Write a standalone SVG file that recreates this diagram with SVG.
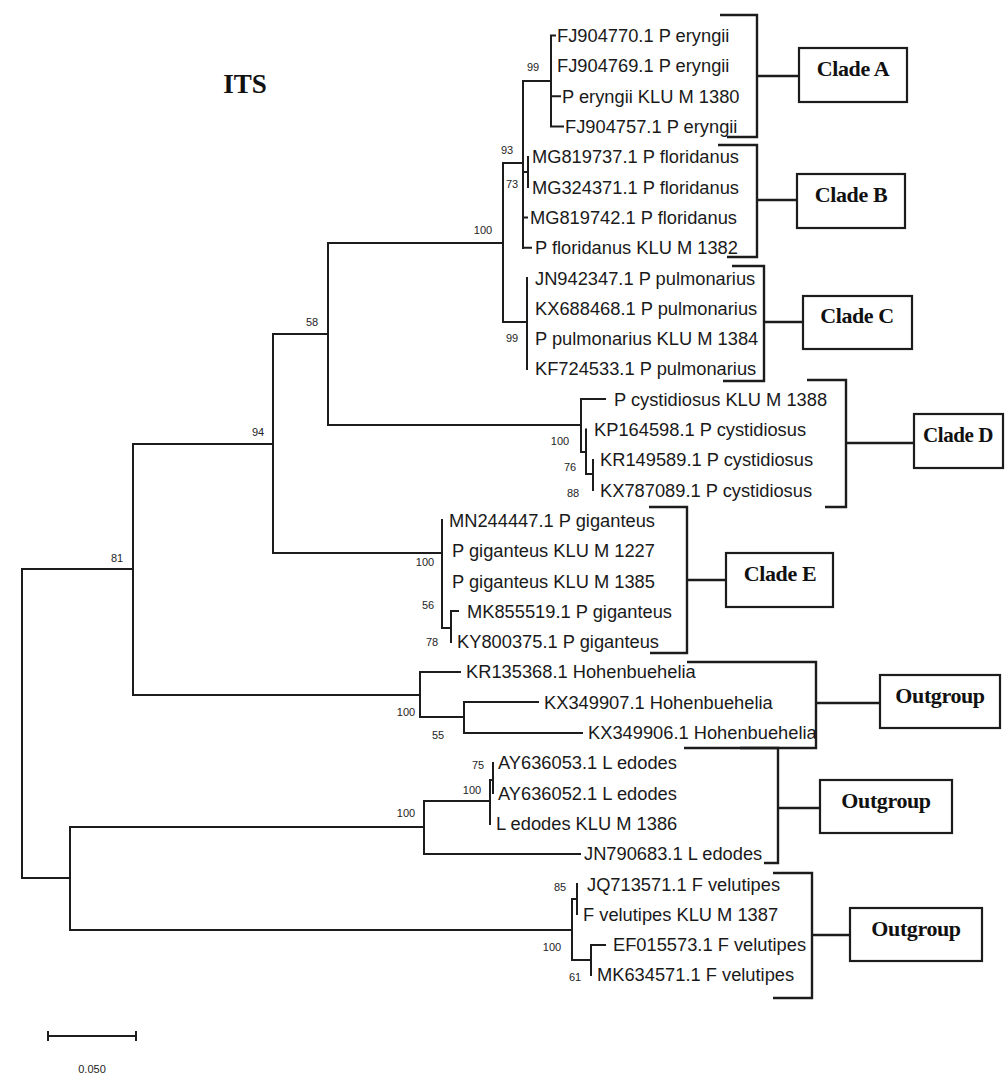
<svg xmlns="http://www.w3.org/2000/svg" width="1006" height="1091" viewBox="0 0 1006 1091">
  <style>
    .br { fill: none; stroke: #1c1c1c; stroke-width: 2; stroke-linecap: square; }
    .bk { fill: none; stroke: #1c1c1c; stroke-width: 2.4; }
    .bx { fill: #ffffff; stroke: #1c1c1c; stroke-width: 2.2; }
    .lf { font-family: "Liberation Sans", Arial, sans-serif; font-size: 18.3px; fill: #1a1a1a; }
    .bs { font-family: "Liberation Sans", Arial, sans-serif; font-size: 11px; fill: #222222; text-anchor: middle; }
    .cl { font-family: "Liberation Serif", "Times New Roman", serif; font-size: 22px; font-weight: bold; fill: #111111; text-anchor: middle; letter-spacing: -0.4px; }
    .tt { font-family: "Liberation Serif", "Times New Roman", serif; font-size: 27px; font-weight: bold; fill: #111111; text-anchor: middle; }
    #support, #scale { opacity: 0.99; }
  </style>

  <rect width="1006" height="1091" fill="#ffffff"/>

  <text class="tt" x="245" y="93">ITS</text>

  <!-- tree branches, clade brackets and bracket-to-label links -->
  <g id="connectors">
    <path class="br" d="M22,569 V878 M22,569 H133 M22,878 H70"/>
    <!-- node 81 / 94 / 58 -->
    <path class="br" d="M133,444 V695 M133,444 H273 M133,695 H420"/>
    <path class="br" d="M273,334 V553 M273,334 H328 M273,553 H442"/>
    <path class="br" d="M328,243 V425 M328,243 H503 M328,425 H581"/>
    <!-- eryngii / floridanus / pulmonarius -->
    <path class="br" d="M503,163 V322 M503,163 H523 M503,322 H527"/>
    <path class="br" d="M523,81 V248 M523,81 H551"/>
    <path class="br" d="M551,35.6 V126.5 M551,35.6 H555 M551,96.2 H560 M551,126.5 H563"/>
    <path class="br" d="M523,172 H528 M528,157 V187 M523,217.4 H527 M523,247.7 H531"/>
    <path class="br" d="M527,278 V369"/>
    <!-- cystidiosus -->
    <path class="br" d="M581,399 V452 M581,399 H605 M581,452 H586 M586,429.5 V474 M586,474 H593 M593,460 V490"/>
    <!-- giganteus -->
    <path class="br" d="M442,520 V628 M442,628 H451 M451,611 V642 M451,611 H458"/>
    <!-- Hohenbuehelia -->
    <path class="br" d="M420,672 V717 M420,672 H460 M420,717 H464 M464,702 V733 M464,702 H538 M464,733 H582"/>
    <!-- Lentinula -->
    <path class="br" d="M70,827 V930 M70,827 H424 M424,801 V854 M424,801 H490 M424,854 H580 M490,780 V824 M490,780 H493 M493,763 V793"/>
    <!-- Flammulina -->
    <path class="br" d="M70,930 H572 M572,899 V960 M572,899 H577 M577,884 V914 M572,960 H591 M591,945 V975 M591,945 H605"/>

    <!-- brackets -->
    <path class="bk" d="M720,15 H757 V137 H727 M757,76 H799"/>
    <path class="bk" d="M718,145 H757 V257 H727 M757,200 H797"/>
    <path class="bk" d="M732,266 H764 V381 H723 M764,322 H803"/>
    <path class="bk" d="M807,380 H846 V507 H825 M846,443 H914"/>
    <path class="bk" d="M649,507 H687 V653 H650 M687,580 H726"/>
    <path class="bk" d="M687,662 H816 V748 H684 M816,703 H880"/>
    <path class="bk" d="M740,748 H778 V863 H764 M778,808 H820"/>
    <path class="bk" d="M773,873 H812 V998 H773 M812,935 H850"/>
  </g>

  <!-- taxa -->
  <g id="leaf-FJ904770"><text class="lf" x="557" y="42">FJ904770.1 P eryngii</text></g>
  <g id="leaf-FJ904769"><text class="lf" x="557" y="72">FJ904769.1 P eryngii</text></g>
  <g id="leaf-KLUM1380"><text class="lf" x="562" y="103">P eryngii KLU M 1380</text></g>
  <g id="leaf-FJ904757"><text class="lf" x="565" y="133">FJ904757.1 P eryngii</text></g>
  <g id="leaf-MG819737"><text class="lf" x="532" y="163">MG819737.1 P floridanus</text></g>
  <g id="leaf-MG324371"><text class="lf" x="532" y="194">MG324371.1 P floridanus</text></g>
  <g id="leaf-MG819742"><text class="lf" x="530" y="224">MG819742.1 P floridanus</text></g>
  <g id="leaf-KLUM1382"><text class="lf" x="535" y="254">P floridanus KLU M 1382</text></g>
  <g id="leaf-JN942347"><text class="lf" x="535" y="285">JN942347.1 P pulmonarius</text></g>
  <g id="leaf-KX688468"><text class="lf" x="535" y="315">KX688468.1 P pulmonarius</text></g>
  <g id="leaf-KLUM1384"><text class="lf" x="535" y="345">P pulmonarius KLU M 1384</text></g>
  <g id="leaf-KF724533"><text class="lf" x="535" y="375">KF724533.1 P pulmonarius</text></g>
  <g id="leaf-KLUM1388"><text class="lf" x="614" y="406">P cystidiosus KLU M 1388</text></g>
  <g id="leaf-KP164598"><text class="lf" x="594" y="436">KP164598.1 P cystidiosus</text></g>
  <g id="leaf-KR149589"><text class="lf" x="600" y="466">KR149589.1 P cystidiosus</text></g>
  <g id="leaf-KX787089"><text class="lf" x="600" y="497">KX787089.1 P cystidiosus</text></g>
  <g id="leaf-MN244447"><text class="lf" x="449" y="527">MN244447.1 P giganteus</text></g>
  <g id="leaf-KLUM1227"><text class="lf" x="452" y="557">P giganteus KLU M 1227</text></g>
  <g id="leaf-KLUM1385"><text class="lf" x="452" y="588">P giganteus KLU M 1385</text></g>
  <g id="leaf-MK855519"><text class="lf" x="467" y="618">MK855519.1 P giganteus</text></g>
  <g id="leaf-KY800375"><text class="lf" x="457" y="648">KY800375.1 P giganteus</text></g>
  <g id="leaf-KR135368"><text class="lf" x="466" y="678">KR135368.1 Hohenbuehelia</text></g>
  <g id="leaf-KX349907"><text class="lf" x="544" y="709">KX349907.1 Hohenbuehelia</text></g>
  <g id="leaf-KX349906"><text class="lf" x="588" y="739">KX349906.1 Hohenbuehelia</text></g>
  <g id="leaf-AY636053"><text class="lf" x="498" y="769">AY636053.1 L edodes</text></g>
  <g id="leaf-AY636052"><text class="lf" x="498" y="800">AY636052.1 L edodes</text></g>
  <g id="leaf-KLUM1386"><text class="lf" x="496" y="830">L edodes KLU M 1386</text></g>
  <g id="leaf-JN790683"><text class="lf" x="584" y="860">JN790683.1 L edodes</text></g>
  <g id="leaf-JQ713571"><text class="lf" x="587" y="891">JQ713571.1 F velutipes</text></g>
  <g id="leaf-KLUM1387"><text class="lf" x="583" y="921">F velutipes KLU M 1387</text></g>
  <g id="leaf-EF015573"><text class="lf" x="613" y="951">EF015573.1 F velutipes</text></g>
  <g id="leaf-MK634571"><text class="lf" x="597" y="981">MK634571.1 F velutipes</text></g>

  <!-- bootstrap support values -->
  <g id="support">
    <text class="bs" x="533" y="71">99</text>
    <text class="bs" x="507" y="154">93</text>
    <text class="bs" x="512" y="188">73</text>
    <text class="bs" x="483" y="234">100</text>
    <text class="bs" x="512" y="342">99</text>
    <text class="bs" x="312" y="326">58</text>
    <text class="bs" x="258" y="436">94</text>
    <text class="bs" x="560" y="445">100</text>
    <text class="bs" x="570" y="471">76</text>
    <text class="bs" x="573" y="497">88</text>
    <text class="bs" x="117" y="562">81</text>
    <text class="bs" x="425" y="566">100</text>
    <text class="bs" x="428" y="609">56</text>
    <text class="bs" x="432" y="646">78</text>
    <text class="bs" x="406" y="716">100</text>
    <text class="bs" x="438" y="739">55</text>
    <text class="bs" x="478" y="769">75</text>
    <text class="bs" x="472" y="794">100</text>
    <text class="bs" x="406" y="817">100</text>
    <text class="bs" x="560" y="891">85</text>
    <text class="bs" x="552" y="951">100</text>
    <text class="bs" x="575" y="981">61</text>
  </g>

  <!-- clade labels -->
  <g id="clade-A"><rect class="bx" x="799" y="48" width="108" height="54"/><text class="cl" x="853" y="76">Clade A</text></g>
  <g id="clade-B"><rect class="bx" x="797" y="174" width="108" height="54"/><text class="cl" x="851" y="202">Clade B</text></g>
  <g id="clade-C"><rect class="bx" x="803" y="296" width="109" height="53"/><text class="cl" x="857" y="323">Clade C</text></g>
  <g id="clade-D"><rect class="bx" x="914" y="414" width="89" height="54"/><text class="cl" x="958" y="442" style="font-size:21px">Clade D</text></g>
  <g id="clade-E"><rect class="bx" x="726" y="553" width="107" height="54"/><text class="cl" x="780" y="581">Clade E</text></g>
  <g id="outgroup-1"><rect class="bx" x="880" y="675" width="120" height="53"/><text class="cl" x="940" y="703">Outgroup</text></g>
  <g id="outgroup-2"><rect class="bx" x="820" y="780" width="132" height="53"/><text class="cl" x="886" y="808">Outgroup</text></g>
  <g id="outgroup-3"><rect class="bx" x="850" y="908" width="132" height="53"/><text class="cl" x="916" y="936">Outgroup</text></g>

  <!-- scale bar -->
  <g id="scale">
    <path class="br" d="M48,1036 H136 M48,1032 V1040 M136,1032 V1040"/>
    <text class="bs" x="92" y="1073">0.050</text>
  </g>
</svg>
